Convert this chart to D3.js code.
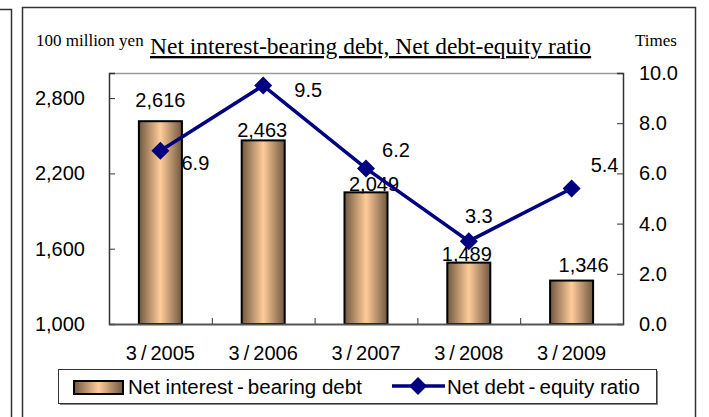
<!DOCTYPE html>
<html>
<head>
<meta charset="utf-8">
<script src="https://cdn.jsdelivr.net/npm/d3@7"></script>
<style>
body { margin: 0; background: #fff; }
svg { display: block; }
text { font-family: "Liberation Sans", Arial, sans-serif; fill: #000; }
.serif { font-family: "Liberation Serif", "Times New Roman", serif; }
</style>
</head>
<body>
<script>
// data
var categories = ["3/2005", "3/2006", "3/2007", "3/2008", "3/2009"];
var debtValues = [2616, 2463, 2049, 1489, 1346];
var ratioValues = [6.9, 9.5, 6.2, 3.3, 5.4];
var leftTicks = [1000, 1600, 2200, 2800];
var rightTicks = [0, 2, 4, 6, 8, 10];

var w = 709,
h = 417,
plotLeft = 109,
plotRight = 623,
plotTop = 73,
plotBottom = 324,
navy = "#000080";

var svg = d3.select("body").append("svg")
.attr("width", w)
.attr("height", h);

// outer frames (previous panel edge + this panel)
svg.append("path")
.attr("d", "M0,9.5H11.5V417")
.attr("fill", "none").attr("stroke", "#333").attr("stroke-width", 1.5);
svg.append("path")
.attr("d", "M22.5,417V7.5H695.5V417")
.attr("fill", "none").attr("stroke", "#333").attr("stroke-width", 1.5);

var defs = svg.append("defs");
var grad = defs.append("linearGradient")
.attr("id", "barGrad")
.attr("x1", "0%").attr("x2", "100%").attr("y1", "0%").attr("y2", "0%");
grad.append("stop").attr("offset", "0%").attr("stop-color", "#705840");
grad.append("stop").attr("offset", "50%").attr("stop-color", "#ffcc99");
grad.append("stop").attr("offset", "100%").attr("stop-color", "#705840");

// scales
var x = d3.scaleBand().domain(categories).range([plotLeft, plotRight]).padding(0);
var yL = d3.scaleLinear().domain([1000, 3000]).range([plotBottom, plotTop]);
var yR = d3.scaleLinear().domain([0, 10]).range([plotBottom, plotTop]);

// plot top border
svg.append("line")
.attr("x1", plotLeft).attr("x2", plotRight)
.attr("y1", plotTop + 0.5).attr("y2", plotTop + 0.5)
.attr("stroke", "#999").attr("stroke-width", 1.5);

// bars
var bw = 43;
svg.selectAll("rect.bar")
.data(debtValues)
.enter().append("rect")
.attr("class", "bar")
.attr("x", function(d, i) { return x(categories[i]) + x.bandwidth() / 2 - bw / 2; })
.attr("y", function(d) { return yL(d); })
.attr("width", bw)
.attr("height", function(d) { return yL(1000) - yL(d); })
.attr("fill", "url(#barGrad)")
.attr("stroke", "#000")
.attr("stroke-width", 2);

// left axis
var axL = svg.append("g")
.attr("transform", "translate(" + plotLeft + ",0)")
.call(d3.axisLeft(yL).tickValues(leftTicks).tickSize(-6).tickPadding(24)
      .tickFormat(d3.format(",")));
axL.select(".domain").attr("stroke", "#333").attr("stroke-width", 1.5);
axL.selectAll("line").attr("stroke", "#333");
axL.selectAll("text").style("font-size", "20px").style("font-family", "Liberation Sans, Arial");

// right axis
var axR = svg.append("g")
.attr("transform", "translate(" + plotRight + ",0)")
.call(d3.axisRight(yR).tickValues(rightTicks).tickSize(-6).tickPadding(16)
      .tickFormat(d3.format(".1f")));
axR.select(".domain").attr("stroke", "#333").attr("stroke-width", 1.5);
axR.selectAll("line").attr("stroke", "#333");
axR.selectAll("text").style("font-size", "20px").style("font-family", "Liberation Sans, Arial");

// bottom axis
var axB = svg.append("g")
.attr("transform", "translate(0," + plotBottom + ")")
.call(d3.axisBottom(x).tickSize(0).tickPadding(22)
      .tickFormat(function(d) { return d.replace("/", "\u2009/\u2009"); }));
axB.select(".domain").attr("stroke", "#555").attr("stroke-width", 2);
axB.selectAll("text").style("font-size", "20px").style("font-family", "Liberation Sans, Arial")
.attr("dy", "0.71em");
// category separator ticks
svg.selectAll("line.sep")
.data(categories.slice(1))
.enter().append("line")
.attr("class", "sep")
.attr("x1", function(d) { return x(d) + 0.5; })
.attr("x2", function(d) { return x(d) + 0.5; })
.attr("y1", plotBottom).attr("y2", plotBottom - 6)
.attr("stroke", "#333");

// bar value labels (manually nudged like the original)
var barLabelNudge = [[0, -14], [-1, -3], [8, -1], [-2, -2], [12, -9]];
svg.selectAll("text.blab")
.data(debtValues)
.enter().append("text")
.attr("class", "blab")
.attr("x", function(d, i) { return x(categories[i]) + x.bandwidth() / 2 + barLabelNudge[i][0]; })
.attr("y", function(d, i) { return yL(d) + barLabelNudge[i][1]; })
.attr("text-anchor", "middle")
.style("font-size", "20px")
.text(d3.format(","));

// ratio line
var line = d3.line()
.x(function(d, i) { return x(categories[i]) + x.bandwidth() / 2; })
.y(function(d) { return yR(d); });

svg.append("path")
.datum(ratioValues)
.attr("d", line)
.attr("fill", "none")
.attr("stroke", navy)
.attr("stroke-width", 3.5);

var diamond = "M0,-9L9,0L0,9L-9,0Z";
svg.selectAll("path.mk")
.data(ratioValues)
.enter().append("path")
.attr("class", "mk")
.attr("d", diamond)
.attr("fill", navy)
.attr("transform", function(d, i) {
    return "translate(" + (x(categories[i]) + x.bandwidth() / 2) + "," + yR(d) + ")";
});

var ratioLabelNudge = [[35, 19], [45, 11], [30, -11], [10, -18], [33, -16]];
svg.selectAll("text.rlab")
.data(ratioValues)
.enter().append("text")
.attr("class", "rlab")
.attr("x", function(d, i) { return x(categories[i]) + x.bandwidth() / 2 + ratioLabelNudge[i][0]; })
.attr("y", function(d, i) { return yR(d) + ratioLabelNudge[i][1]; })
.attr("text-anchor", "middle")
.style("font-size", "20px")
.text(d3.format(".1f"));

// titles
svg.append("text")
.attr("class", "serif")
.attr("x", 36).attr("y", 46)
.style("font-size", "17px")
.text("100 million yen");

svg.append("text")
.attr("class", "serif")
.attr("x", 150).attr("y", 54)
.style("font-size", "23.5px")
.style("text-decoration", "underline")
.text("Net interest-bearing debt, Net debt-equity ratio");

svg.append("text")
.attr("class", "serif")
.attr("x", 635).attr("y", 46)
.style("font-size", "17px")
.text("Times");

// legend
var lg = svg.append("g");
lg.append("rect")
.attr("x", 60).attr("y", 371).attr("width", 598).attr("height", 34)
.attr("fill", "#888");
lg.append("rect")
.attr("x", 58.5).attr("y", 369.5).attr("width", 598).attr("height", 34)
.attr("fill", "#fff").attr("stroke", "#333").attr("stroke-width", 1);
lg.append("rect")
.attr("x", 74).attr("y", 381).attr("width", 49).attr("height", 13)
.attr("fill", "url(#barGrad)").attr("stroke", "#000").attr("stroke-width", 2);
lg.append("text")
.attr("x", 128).attr("y", 394)
.style("font-size", "20.5px")
.text("Net interest\u2009-\u2009bearing debt");
lg.append("line")
.attr("x1", 392).attr("x2", 445).attr("y1", 386).attr("y2", 386)
.attr("stroke", navy).attr("stroke-width", 3.5);
lg.append("path")
.attr("d", diamond)
.attr("fill", navy)
.attr("transform", "translate(418,386)");
lg.append("text")
.attr("x", 447).attr("y", 394)
.style("font-size", "20.5px")
.text("Net debt\u2009-\u2009equity ratio");
</script>
</body>
</html>
